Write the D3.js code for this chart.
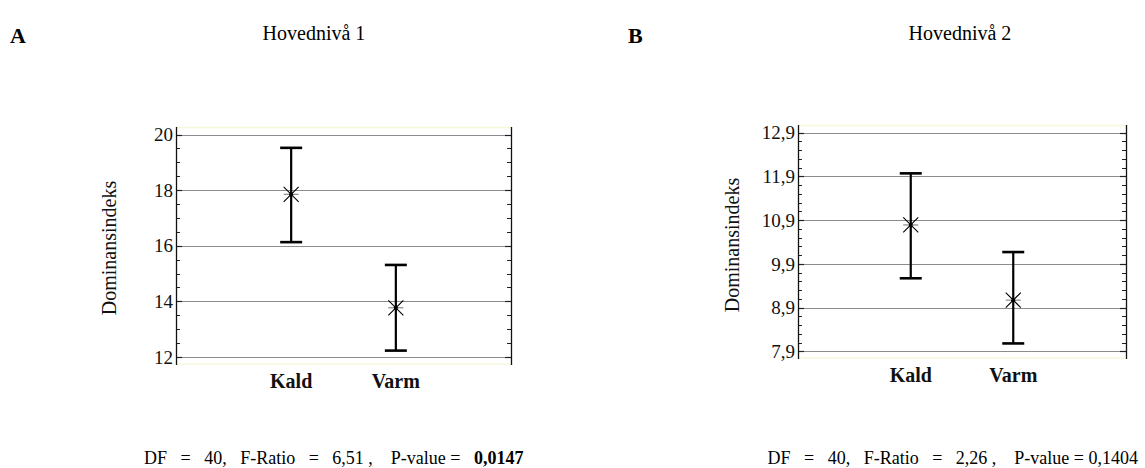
<!DOCTYPE html>
<html>
<head>
<meta charset="utf-8">
<script src="https://cdn.jsdelivr.net/npm/d3@7/dist/d3.min.js"></script>
<style>
  html, body { margin: 0; padding: 0; background: #fff; }
  text { font-family: 'Liberation Serif', 'DejaVu Serif', serif; }
</style>
</head>
<body>
<svg id="chart" width="1145" height="468" font-family="Liberation Serif"></svg>
<script>
// ---- data ----
const categories = ["Kald", "Varm"];

const panelLetters = ["A", "B"];
const panelTitles = ["Hovednivå 1", "Hovednivå 2"];
const yLabel = "Dominansindeks";

const meansA = [17.85, 13.77];
const lowerA = [16.13, 12.23];
const upperA = [19.52, 15.31];
const ticksA = [12, 14, 16, 18, 20];
const tickLabelsA = ["12", "14", "16", "18", "20"];

const meansB = [10.79, 9.07];
const lowerB = [9.57, 8.08];
const upperB = [11.97, 10.17];
const ticksB = [7.9, 8.9, 9.9, 10.9, 11.9, 12.9];
const tickLabelsB = ["7,9", "8,9", "9,9", "10,9", "11,9", "12,9"];

const statsA = ["DF   =   40,   F-Ratio   =   6,51 ,    P-value =   ", "0,0147"];
const statsB = ["DF   =   40,   F-Ratio   =   2,26 ,    P-value = 0,1404", ""];

// ---- drawing ----
const svg = d3.select("#chart");
const FONT = "Liberation Serif";

function drawPanel(cfg) {
  const g = svg.append("g");
  const y = d3.scaleLinear().domain(cfg.domain).range([cfg.yBot, cfg.yTop]);
  const x = d3.scalePoint().domain(categories).range([cfg.left, cfg.right]).padding(1.1);

  g.append("line").attr("x1", cfg.left).attr("x2", cfg.right)
    .attr("y1", cfg.frameTop + 0.5).attr("y2", cfg.frameTop + 0.5)
    .attr("stroke", "#f7f7dc").attr("stroke-width", 1.5);
  g.append("line").attr("x1", cfg.left).attr("x2", cfg.right)
    .attr("y1", cfg.frameBot - 1).attr("y2", cfg.frameBot - 1)
    .attr("stroke", "#f7f7dc").attr("stroke-width", 1.5);

  g.selectAll(".grid").data(cfg.ticks).enter().append("line")
    .attr("x1", cfg.left).attr("x2", cfg.right)
    .attr("y1", d => Math.round(y(d)) + 0.5).attr("y2", d => Math.round(y(d)) + 0.5)
    .attr("stroke", "#8c8c8c").attr("stroke-width", 1.2);

  const minor = [];
  for (let i = 0; i < cfg.ticks.length - 1; i++) {
    for (let k = 1; k < cfg.minorN; k++) {
      minor.push(cfg.ticks[i] + (cfg.ticks[i + 1] - cfg.ticks[i]) * k / cfg.minorN);
    }
  }
  [cfg.left, cfg.right].forEach((ax, side) => {
    const dir = side === 0 ? 1 : -1;
    g.selectAll(null).data(minor).enter().append("line")
      .attr("x1", ax).attr("x2", ax + dir * 4)
      .attr("y1", d => Math.round(y(d)) + 0.5).attr("y2", d => Math.round(y(d)) + 0.5)
      .attr("stroke", "#222").attr("stroke-width", 1);
    g.selectAll(null).data(cfg.ticks).enter().append("line")
      .attr("x1", ax).attr("x2", ax + dir * 6)
      .attr("y1", d => Math.round(y(d)) + 0.5).attr("y2", d => Math.round(y(d)) + 0.5)
      .attr("stroke", "#222").attr("stroke-width", 1.2);
  });

  [cfg.left, cfg.right].forEach(ax => {
    g.append("line").attr("x1", ax + 0.5).attr("x2", ax + 0.5)
      .attr("y1", cfg.frameTop).attr("y2", cfg.frameBot)
      .attr("stroke", "#111").attr("stroke-width", 1.3);
  });

  g.selectAll(".tl").data(cfg.ticks).enter().append("text")
    .attr("font-family", FONT)
    .attr("x", cfg.left - 3).attr("y", d => y(d))
    .attr("dy", "0.35em").attr("text-anchor", "end")
    .attr("font-size", 19).attr("fill", "#111")
    .text((d, i) => cfg.tickLabels[i]);

  g.selectAll(".cl").data(categories).enter().append("text")
    .attr("font-family", FONT)
    .attr("x", d => x(d)).attr("y", cfg.frameBot + 23)
    .attr("text-anchor", "middle").attr("font-size", 20).attr("font-weight", "bold")
    .attr("fill", "#111").text(d => d);

  g.append("text")
    .attr("font-family", FONT)
    .attr("transform", `translate(${cfg.yLabX},${cfg.yLabY}) rotate(-90)`)
    .attr("text-anchor", "middle").attr("font-size", 20).attr("fill", "#111")
    .text(yLabel);

  const eb = g.selectAll(".eb").data(categories).enter().append("g");
  eb.append("line")
    .attr("x1", d => x(d)).attr("x2", d => x(d))
    .attr("y1", (d, i) => y(cfg.upper[i])).attr("y2", (d, i) => y(cfg.lower[i]))
    .attr("stroke", "#000").attr("stroke-width", 2.2);
  [cfg.upper, cfg.lower].forEach(arr => {
    eb.append("line")
      .attr("x1", d => x(d) - 11).attr("x2", d => x(d) + 11)
      .attr("y1", (d, i) => y(arr[i])).attr("y2", (d, i) => y(arr[i]))
      .attr("stroke", "#000").attr("stroke-width", 2.6);
  });
  const s = 7.5;
  eb.append("path")
    .attr("d", (d, i) => {
      const cx = x(d), cy = y(cfg.mean[i]);
      return `M${cx - s},${cy - s}L${cx + s},${cy + s}M${cx - s},${cy + s}L${cx + s},${cy - s}`;
    })
    .attr("stroke", "#000").attr("stroke-width", 1.1).attr("fill", "none");
  eb.append("line")
    .attr("x1", d => x(d) - s).attr("x2", d => x(d) + s)
    .attr("y1", (d, i) => y(cfg.mean[i])).attr("y2", (d, i) => y(cfg.mean[i]))
    .attr("stroke", "#888").attr("stroke-width", 1.2);
  eb.append("circle")
    .attr("cx", d => x(d)).attr("cy", (d, i) => y(cfg.mean[i])).attr("r", 2)
    .attr("fill", "#000");

  svg.append("text").attr("font-family", FONT).attr("x", cfg.letterX).attr("y", 43)
    .attr("font-size", 22).attr("font-weight", "bold").attr("fill", "#000")
    .text(cfg.letter);
  svg.append("text").attr("font-family", FONT).attr("x", cfg.titleX).attr("y", 40)
    .attr("text-anchor", "middle").attr("font-size", 20).attr("fill", "#000")
    .text(cfg.title);

  const st = svg.append("text").attr("font-family", FONT).attr("x", cfg.statsX).attr("y", 464)
    .attr("font-size", 18).attr("fill", "#000").attr("text-anchor", cfg.statsAnchor)
    .attr("xml:space", "preserve").style("white-space", "pre");
  st.append("tspan").text(cfg.stats[0]);
  if (cfg.stats[1]) st.append("tspan").attr("font-weight", "bold").text(cfg.stats[1]);
}

drawPanel({
  letter: panelLetters[0], title: panelTitles[0], letterX: 10, titleX: 314,
  domain: [12, 20], yBot: 357, yTop: 134.5, frameTop: 127, frameBot: 365,
  left: 176, right: 511, ticks: ticksA, tickLabels: tickLabelsA, minorN: 4,
  mean: meansA, lower: lowerA, upper: upperA,
  yLabX: 116, yLabY: 248, stats: statsA, statsX: 144, statsAnchor: "start"
});

drawPanel({
  letter: panelLetters[1], title: panelTitles[1], letterX: 628, titleX: 960,
  domain: [7.9, 12.9], yBot: 351.3, yTop: 132.7, frameTop: 125, frameBot: 359,
  left: 798, right: 1126, ticks: ticksB, tickLabels: tickLabelsB, minorN: 5,
  mean: meansB, lower: lowerB, upper: upperB,
  yLabX: 739, yLabY: 245, stats: statsB, statsX: 1138, statsAnchor: "end"
});
</script>
</body>
</html>
